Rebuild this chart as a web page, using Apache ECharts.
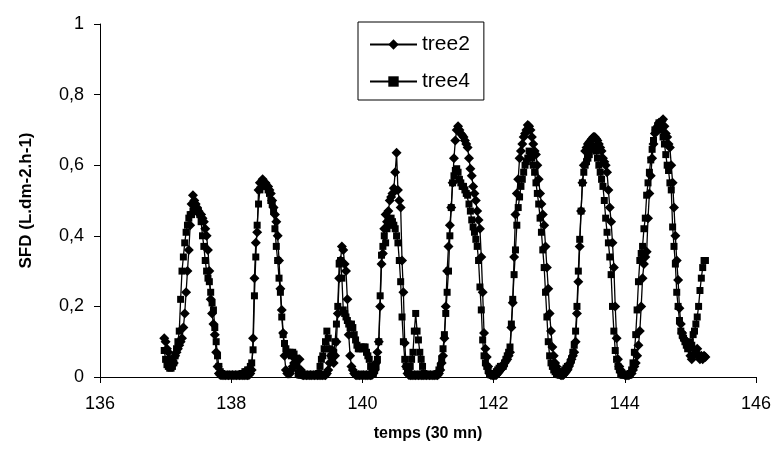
<!DOCTYPE html>
<html>
<head>
<meta charset="utf-8">
<title>SFD</title>
<script src="https://cdn.jsdelivr.net/npm/echarts@6/dist/echarts.min.js"></script>
</head>
<body style="margin:0;background:#fff;">
<div id="container" style="width:778px;height:467px;"></div>
<script type="text/javascript">
// temps: one sample every 30 mn, first one just before day 137
var t0 = 137 - 1 / 48;
var step = 1 / 48;

var xTicks = [136, 138, 140, 142, 144, 146];
var yTicks = [0, 0.2, 0.4, 0.6, 0.8, 1];

// SFD tree2 (L.dm-2.h-1), 12 samples per line
var tree2 = [
  0.11, 0.10, 0.08, 0.07, 0.05, 0.04, 0.035, 0.04, 0.06, 0.07, 0.08, 0.09,
  0.10, 0.11, 0.14, 0.18, 0.24, 0.30, 0.36, 0.43, 0.49, 0.515, 0.50, 0.49,
  0.48, 0.47, 0.46, 0.46, 0.45, 0.44, 0.42, 0.40, 0.36, 0.30, 0.22, 0.18,
  0.15, 0.12, 0.07, 0.03, 0.01, 0.006, 0.006, 0.005, 0.006, 0.005, 0.006, 0.005,
  0.006, 0.005, 0.006, 0.005, 0.006, 0.005, 0.006, 0.005, 0.006, 0.005, 0.006, 0.005,
  0.006, 0.005, 0.006, 0.01, 0.02, 0.11, 0.28, 0.38, 0.41, 0.53, 0.55, 0.55,
  0.56, 0.55, 0.55, 0.54, 0.54, 0.53, 0.52, 0.50, 0.48, 0.46, 0.44, 0.40,
  0.33, 0.25, 0.19, 0.125, 0.06, 0.02, 0.01, 0.01, 0.01, 0.02, 0.03, 0.04,
  0.05, 0.05, 0.05, 0.05, 0.02, 0.006, 0.005, 0.006, 0.005, 0.006, 0.005, 0.006,
  0.005, 0.006, 0.005, 0.006, 0.005, 0.006, 0.005, 0.006, 0.005, 0.006, 0.005, 0.01,
  0.02, 0.04, 0.06, 0.076, 0.04, 0.06, 0.10, 0.18, 0.28, 0.33, 0.37, 0.36,
  0.32, 0.30, 0.22, 0.12, 0.06, 0.03, 0.02, 0.01, 0.006, 0.005, 0.006, 0.005,
  0.006, 0.005, 0.006, 0.005, 0.006, 0.005, 0.006, 0.005, 0.006, 0.01, 0.02, 0.04,
  0.07, 0.10, 0.20, 0.32, 0.35, 0.42, 0.46, 0.44, 0.47, 0.50, 0.51, 0.52,
  0.535, 0.58, 0.635, 0.53, 0.50, 0.48, 0.33, 0.24, 0.096, 0.03, 0.01, 0.006,
  0.005, 0.006, 0.005, 0.006, 0.005, 0.006, 0.005, 0.006, 0.005, 0.006, 0.005, 0.006,
  0.005, 0.006, 0.005, 0.006, 0.005, 0.006, 0.005, 0.006, 0.005, 0.01, 0.02, 0.04,
  0.06, 0.11, 0.20, 0.30, 0.37, 0.43, 0.48, 0.55, 0.62, 0.67, 0.70, 0.71,
  0.70, 0.69, 0.685, 0.68, 0.67, 0.66, 0.65, 0.62, 0.59, 0.57, 0.54, 0.52,
  0.50, 0.47, 0.445, 0.42, 0.34, 0.24, 0.125, 0.08, 0.057, 0.03, 0.01, 0.006,
  0.005, 0.006, 0.005, 0.006, 0.01, 0.015, 0.02, 0.025, 0.03, 0.04, 0.045, 0.05,
  0.06, 0.07, 0.14, 0.21, 0.34, 0.46, 0.52, 0.56, 0.62, 0.64, 0.66, 0.68,
  0.69, 0.70, 0.714, 0.71, 0.70, 0.68, 0.66, 0.64, 0.63, 0.60, 0.56, 0.52,
  0.49, 0.46, 0.43, 0.37, 0.31, 0.25, 0.18, 0.13, 0.085, 0.06, 0.04, 0.03,
  0.02, 0.01, 0.006, 0.005, 0.006, 0.01, 0.015, 0.02, 0.03, 0.04, 0.05, 0.06,
  0.07, 0.10, 0.18, 0.27, 0.37, 0.47, 0.55, 0.60, 0.64, 0.65, 0.66, 0.665,
  0.67, 0.675, 0.68, 0.68, 0.675, 0.67, 0.66, 0.65, 0.64, 0.62, 0.61, 0.60,
  0.58, 0.53, 0.48, 0.44, 0.38, 0.31, 0.20, 0.11, 0.05, 0.03, 0.02, 0.01,
  0.01, 0.006, 0.005, 0.006, 0.005, 0.01, 0.01, 0.02, 0.03, 0.04, 0.06, 0.09,
  0.13, 0.20, 0.28, 0.32, 0.34, 0.355, 0.45, 0.52, 0.57, 0.62, 0.66, 0.69,
  0.70, 0.71, 0.72, 0.72, 0.725, 0.73, 0.71, 0.69, 0.68, 0.66, 0.65, 0.60,
  0.55, 0.48, 0.40, 0.33, 0.275, 0.195, 0.15, 0.125, 0.11, 0.105, 0.10, 0.09,
  0.08, 0.06, 0.05, 0.06, 0.077, 0.07, 0.08, 0.06, 0.05, 0.06, 0.05, 0.06,
  0.057
];

// SFD tree4 (L.dm-2.h-1), same sampling
var tree4 = [
  0.075, 0.05, 0.035, 0.03, 0.025, 0.025, 0.03, 0.04, 0.06, 0.08, 0.10, 0.13,
  0.22, 0.30, 0.34, 0.38, 0.41, 0.43, 0.45, 0.46, 0.46, 0.47, 0.48, 0.48,
  0.47, 0.47, 0.46, 0.44, 0.40, 0.37, 0.33, 0.30, 0.28, 0.27, 0.24, 0.21,
  0.19, 0.14, 0.10, 0.06, 0.03, 0.015, 0.01, 0.006, 0.005, 0.006, 0.005, 0.006,
  0.005, 0.006, 0.005, 0.006, 0.005, 0.006, 0.005, 0.006, 0.005, 0.01, 0.01, 0.015,
  0.015, 0.02, 0.02, 0.03, 0.04, 0.077, 0.23, 0.34, 0.43, 0.49, 0.53, 0.545,
  0.545, 0.545, 0.54, 0.54, 0.53, 0.52, 0.50, 0.49, 0.47, 0.42, 0.37, 0.33,
  0.28, 0.24, 0.17, 0.12, 0.095, 0.08, 0.07, 0.065, 0.07, 0.06, 0.07, 0.065,
  0.05, 0.03, 0.01, 0.006, 0.005, 0.006, 0.005, 0.006, 0.005, 0.006, 0.005, 0.006,
  0.005, 0.006, 0.005, 0.006, 0.005, 0.01, 0.03, 0.05, 0.06, 0.08, 0.10, 0.13,
  0.11, 0.08, 0.06, 0.057, 0.07, 0.10, 0.15, 0.20, 0.32, 0.33, 0.28, 0.19,
  0.18, 0.17, 0.16, 0.15, 0.14, 0.15, 0.14, 0.12, 0.105, 0.09, 0.08, 0.08,
  0.085, 0.08, 0.085, 0.085, 0.07, 0.06, 0.05, 0.03, 0.02, 0.01, 0.02, 0.03,
  0.05, 0.10, 0.23, 0.345, 0.37, 0.40, 0.38, 0.42, 0.43, 0.44, 0.45, 0.44,
  0.43, 0.42, 0.40, 0.38, 0.33, 0.27, 0.17, 0.10, 0.05, 0.03, 0.02, 0.02,
  0.03, 0.05, 0.07, 0.13, 0.18, 0.13, 0.105, 0.07, 0.05, 0.03, 0.01, 0.006,
  0.005, 0.006, 0.005, 0.006, 0.005, 0.006, 0.005, 0.006, 0.01, 0.02, 0.03, 0.05,
  0.08, 0.12, 0.18, 0.24, 0.30, 0.40, 0.48, 0.55, 0.57, 0.585, 0.59, 0.58,
  0.56, 0.55, 0.54, 0.54, 0.53, 0.52, 0.515, 0.49, 0.47, 0.445, 0.425, 0.41,
  0.39, 0.37, 0.33, 0.255, 0.19, 0.105, 0.06, 0.04, 0.03, 0.02, 0.01, 0.006,
  0.005, 0.006, 0.01, 0.015, 0.02, 0.025, 0.03, 0.03, 0.03, 0.04, 0.05, 0.06,
  0.07, 0.085, 0.15, 0.22, 0.29, 0.36, 0.43, 0.48, 0.51, 0.54, 0.56, 0.58,
  0.60, 0.61, 0.62, 0.64, 0.63, 0.62, 0.60, 0.58, 0.55, 0.52, 0.49, 0.45,
  0.41, 0.36, 0.31, 0.24, 0.17, 0.10, 0.06, 0.04, 0.03, 0.02, 0.015, 0.01,
  0.01, 0.006, 0.005, 0.01, 0.015, 0.02, 0.025, 0.03, 0.03, 0.04, 0.05, 0.07,
  0.09, 0.13, 0.20, 0.30, 0.39, 0.47, 0.55, 0.58, 0.60, 0.61, 0.62, 0.63,
  0.645, 0.65, 0.655, 0.65, 0.64, 0.62, 0.60, 0.58, 0.56, 0.54, 0.50, 0.45,
  0.41, 0.38, 0.34, 0.29, 0.20, 0.13, 0.075, 0.05, 0.03, 0.02, 0.01, 0.006,
  0.005, 0.006, 0.005, 0.006, 0.005, 0.01, 0.02, 0.04, 0.07, 0.12, 0.19, 0.27,
  0.33, 0.35, 0.37, 0.42, 0.45, 0.515, 0.55, 0.58, 0.615, 0.645, 0.67, 0.70,
  0.70, 0.71, 0.72, 0.71, 0.70, 0.68, 0.66, 0.63, 0.60, 0.585, 0.55, 0.53,
  0.425, 0.37, 0.32, 0.24, 0.20, 0.16, 0.13, 0.12, 0.11, 0.10, 0.09, 0.08,
  0.09, 0.10, 0.09, 0.12, 0.13, 0.15, 0.17, 0.20, 0.245, 0.28, 0.31, 0.33,
  0.33
];

function withTime(values) {
  return values.map(function (v, i) { return [t0 + i * step, v]; });
}

var font = 'Liberation Sans, Arial, sans-serif';
var chart = echarts.init(document.getElementById('container'));

chart.setOption({
  animation: false,
  backgroundColor: '#fff',
  textStyle: { fontFamily: font, color: '#000' },
  grid: { left: 100, right: 22, top: 24, bottom: 90 },
  legend: {
    left: 358, top: 22,
    orient: 'vertical',
    data: ['tree2', 'tree4'],
    borderColor: '#000', borderWidth: 1,
    padding: [12, 14, 8, 11],
    itemWidth: 47, itemHeight: 13, itemGap: 16,
    textStyle: { fontFamily: font, fontSize: 21, color: '#000' }
  },
  xAxis: {
    type: 'value',
    min: xTicks[0], max: xTicks[xTicks.length - 1], interval: 2,
    name: 'temps (30 mn)',
    nameLocation: 'middle', nameGap: 49,
    nameTextStyle: { fontFamily: font, fontSize: 16, fontWeight: 'bold', color: '#000' },
    axisLine: { onZero: false, lineStyle: { color: '#000', width: 1 } },
    axisTick: { inside: false, length: 6, lineStyle: { color: '#000' } },
    axisLabel: { margin: 18, fontSize: 18, color: '#000', fontFamily: font },
    splitLine: { show: false }
  },
  yAxis: {
    type: 'value',
    min: yTicks[0], max: yTicks[yTicks.length - 1], interval: 0.2,
    name: 'SFD (L.dm-2.h-1)',
    nameLocation: 'middle', nameGap: 65, nameRotate: 90,
    nameTextStyle: { fontFamily: font, fontSize: 17, fontWeight: 'bold', color: '#000' },
    axisLine: { show: true, lineStyle: { color: '#000', width: 1 } },
    axisTick: { show: true, inside: false, length: 6, lineStyle: { color: '#000' } },
    axisLabel: {
      margin: 16, fontSize: 18, color: '#000', fontFamily: font,
      formatter: function (v) { return String(Number(v.toFixed(1))).replace('.', ','); }
    },
    splitLine: { show: false }
  },
  series: [
    {
      name: 'tree2', type: 'line',
      data: withTime(tree2),
      symbol: 'diamond', symbolSize: 10,
      showAllSymbol: true,
      itemStyle: { color: '#000' },
      lineStyle: { color: '#000', width: 1.3 }
    },
    {
      name: 'tree4', type: 'line',
      data: withTime(tree4),
      symbol: 'rect', symbolSize: 7,
      showAllSymbol: true,
      itemStyle: { color: '#000' },
      lineStyle: { color: '#000', width: 1.3 }
    }
  ]
});
</script>
</body>
</html>
